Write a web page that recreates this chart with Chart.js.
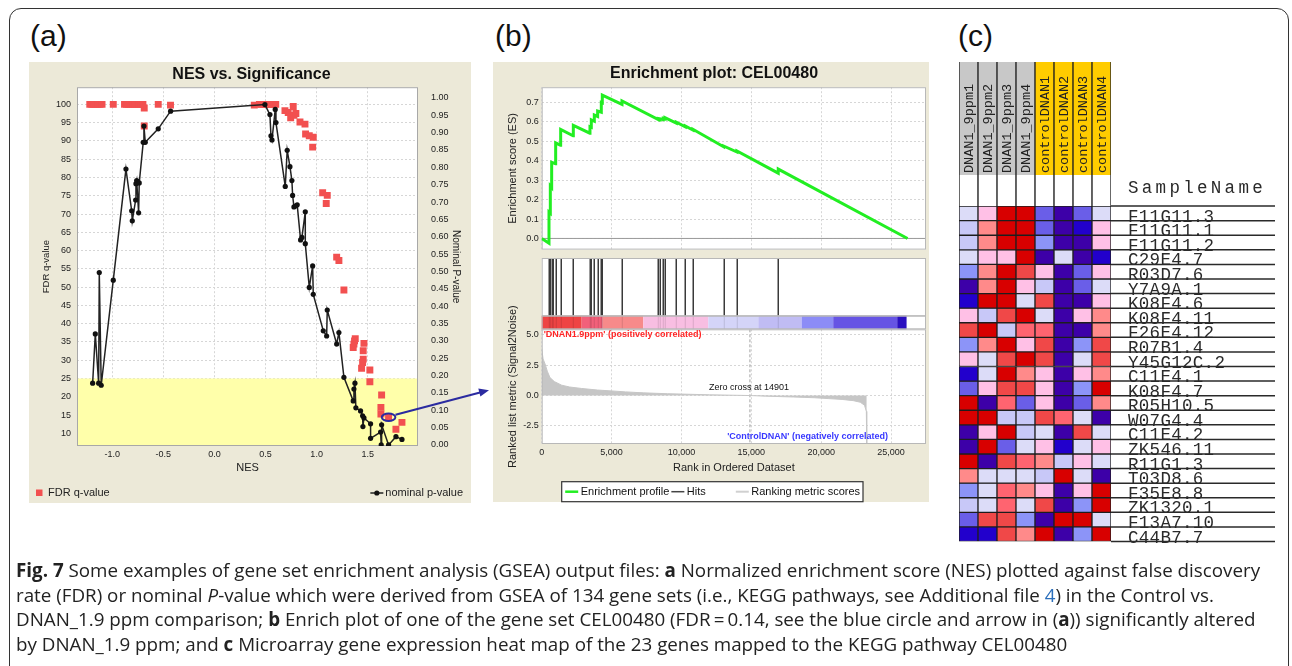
<!DOCTYPE html>
<html>
<head>
<meta charset="utf-8">
<script src="https://cdn.jsdelivr.net/npm/chart.js@4.4.0/dist/chart.umd.min.js"></script>
<style>
  body { margin: 0; background: #fff; width: 1292px; height: 666px; overflow: hidden; position: relative;
         font-family: "Liberation Sans", Arial, sans-serif; }
  .frame { position: absolute; left: 9px; top: 8px; width: 1280px; height: 720px; border: 1.5px solid #333;
           border-radius: 12px; box-sizing: border-box; }
  .lab { position: absolute; top: 21px; font-size: 30px; line-height: 30px; color: #111; }
  .beige { position: absolute; background: #ECE9D8; }
  canvas { position: absolute; }
  .cap { position: absolute; left: 16px; top: 558px; font-family: "Open Sans", sans-serif; font-size: 18.8px;
         line-height: 24.5px; color: #222; white-space: nowrap; }
  svg { position: absolute; left: 0; top: 0; }
</style>
</head>
<body>
<div class="frame"></div>
<div class="lab" style="left:30px">(a)</div>
<div class="lab" style="left:495px">(b)</div>
<div class="lab" style="left:958px">(c)</div>

<div class="beige" style="left:29px;top:62px;width:442px;height:441px"></div>
<div class="beige" style="left:493px;top:62px;width:436px;height:440px"></div>

<canvas id="chartA" width="442" height="441" style="left:29px;top:62px"></canvas>
<canvas id="chartES" width="436" height="196" style="left:493px;top:62px"></canvas>
<canvas id="chartRank" width="436" height="246" style="left:493px;top:258px"></canvas>
<canvas id="chartHeat" width="340" height="495" style="left:945px;top:55px"></canvas>

<svg width="1292" height="666">
  <line x1="395.5" y1="414.8" x2="481" y2="392.3" stroke="#2B2BA0" stroke-width="2"/>
  <polygon points="489,390.2 478.3,388.6 480.4,396.6" fill="#2B2BA0"/>
</svg>

<div class="cap"><b>Fig. 7</b> Some examples of gene set enrichment analysis (GSEA) output files: <b>a</b> Normalized enrichment score (NES) plotted against false discovery<br>rate (FDR) or nominal <i>P</i>-value which were derived from GSEA of 134 gene sets (i.e., KEGG pathways, see Additional file <span style="color:#2A6EBB">4</span>) in the Control vs.<br>DNAN_1.9 ppm comparison; <b>b</b> Enrich plot of one of the gene set CEL00480 (FDR&#8201;=&#8201;0.14, see the blue circle and arrow in (<b>a</b>)) significantly altered<br>by DNAN_1.9 ppm; and <b>c</b> Microarray gene expression heat map of the 23 genes mapped to the KEGG pathway CEL00480</div>

<script>
// ---------- (a) NES vs. Significance ----------
var fdrNes = [-1.22, -1.20, -1.18, -1.16, -1.14, -1.12, -1.10, -0.99, -0.88, -0.86, -0.84, -0.82, -0.80, -0.78,
  -0.76, -0.74, -0.72, -0.70, -0.687, -0.687, -0.55, -0.43, 0.39, 0.44, 0.46, 0.48, 0.50, 0.52, 0.54, 0.56,
  0.58, 0.60, 0.69, 0.722, 0.746, 0.771, 0.778, 0.797, 0.837, 0.886, 0.892, 0.928, 0.967, 0.961, 1.059,
  1.104, 1.094, 1.196, 1.218, 1.267, 1.358, 1.365, 1.371, 1.378, 1.463, 1.456, 1.456, 1.45, 1.44, 1.521,
  1.521, 1.636, 1.629, 1.629, 1.704, 1.835, 1.776];
var fdrQ = [100, 100, 100, 100, 100, 100, 100, 100, 100, 100, 100, 100, 100, 100,
  100, 100, 100, 100, 99, 94.1, 100, 99.8, 99.8, 100, 100, 100, 100, 100, 100, 100,
  100, 100, 98.3, 97.8, 96.3, 99.4, 97, 97.5, 95.2, 94.6, 91.9, 91.4, 91.0, 88.3, 75.8,
  75.1, 72.9, 58.2, 57.3, 49.2, 33.5, 34.4, 35.3, 35.9, 34.6, 32.6, 30.3, 29.4, 27.8, 27.3,
  24.1, 20.5, 17.1, 15.3, 14.4, 13.0, 11.1];

var pNes = [-1.192, -1.166, -1.133, -1.127, -1.108, -0.99, -0.866, -0.81, -0.804, -0.771, -0.768, -0.761,
  -0.742, -0.736, -0.697, -0.69, -0.677, -0.55, -0.429, 0.494, 0.543, 0.553, 0.563, 0.595, 0.602, 0.693,
  0.712, 0.739, 0.758, 0.765, 0.778, 0.797, 0.81, 0.843, 0.856, 0.889, 0.889, 0.928, 0.961, 0.967, 1.065,
  1.098, 1.104, 1.196, 1.218, 1.267, 1.358, 1.365, 1.375, 1.384, 1.43, 1.45, 1.453, 1.463, 1.528, 1.528,
  1.626, 1.632, 1.636, 1.704, 1.776, 1.835];
var pVal = [0.178, 0.320, 0.178, 0.497, 0.172, 0.475, 0.795, 0.675, 0.646, 0.706, 0.753, 0.762,
  0.669, 0.755, 0.872, 0.919, 0.872, 0.911, 0.962, 0.981, 0.952, 0.891, 0.879, 0.967, 0.929, 0.745,
  0.849, 0.802, 0.762, 0.719, 0.686, 0.689, 0.692, 0.591, 0.598, 0.672, 0.580, 0.454, 0.516, 0.434, 0.329,
  0.314, 0.389, 0.291, 0.324, 0.195, 0.127, 0.161, 0.178, 0.107, 0.098, 0.084, 0.053, 0.078, 0.061, 0.019,
  0.037, 0.000, 0.058, 0.000, 0.024, 0.016];

var nesTicks = [-1.0, -0.5, 0.0, 0.5, 1.0, 1.5];
var fdrTicks = [10, 15, 20, 25, 30, 35, 40, 45, 50, 55, 60, 65, 70, 75, 80, 85, 90, 95, 100];
var pTicks = [0, 0.05, 0.1, 0.15, 0.2, 0.25, 0.3, 0.35, 0.4, 0.45, 0.5, 0.55, 0.6, 0.65, 0.7, 0.75, 0.8, 0.85, 0.9, 0.95, 1.0];
var fdrCutoff = 25;
var circledNes = 1.704, circledFdr = 14.4;

// ---------- (b) enrichment plot ----------
var esRank = [0, 522, 522, 617, 617, 713, 713, 990, 999, 1340, 1357, 2250, 2263, 3445, 3455, 3550, 3550,
  3765, 3765, 4003, 4003, 4265, 4265, 4337, 4337, 5744, 5744, 8343, 8343, 8462, 8462, 8700, 8700, 8820, 8820,
  9630, 9630, 10274, 10274, 10820, 10820, 13015, 13015, 13970, 13970, 16926, 16926, 26180];
var esScore = [0.0, -0.025, 0.136, 0.13, 0.27, 0.262, 0.392, 0.385, 0.492, 0.48, 0.561, 0.528, 0.582, 0.542, 0.575, 0.572, 0.61,
  0.603, 0.635, 0.628, 0.656, 0.65, 0.70, 0.698, 0.738, 0.69, 0.708, 0.612, 0.616, 0.612, 0.616, 0.612, 0.618, 0.615, 0.622,
  0.594, 0.598, 0.575, 0.579, 0.558, 0.562, 0.472, 0.476, 0.445, 0.45, 0.336, 0.357, 0.0];
var hitRanks = [522, 617, 713, 832, 999, 1357, 2263, 3455, 3550, 3765, 4003, 4265, 4337, 5744, 8343, 8462,
  8700, 8820, 9630, 10274, 10820, 13015, 13970, 16926];
var barBreaks = [0, 2860, 4362, 7270, 11920, 15500, 18600, 20860, 25440, 26110];
var barColors = ['#EE4444', '#F2607A', '#F78A8A', '#F8BEE2', '#D4D4F8', '#C0BCF4', '#8C8CF6', '#6654E4', '#2A10C0'];
var rankPos = [0, 100, 240, 400, 590, 900, 1430, 2000, 2860, 4000, 5000, 6000, 7300, 9000, 10000, 12000,
  14901, 16000, 18000, 19500, 20500, 21500, 22300, 22800, 23100, 23230, 23260];
var rankMetric = [3.87, 3.0, 2.6, 2.0, 1.48, 1.15, 0.85, 0.7, 0.58, 0.45, 0.38, 0.3, 0.22, 0.15, 0.12, 0.06,
  0.0, -0.05, -0.12, -0.18, -0.25, -0.32, -0.42, -0.55, -0.8, -1.3, -3.9];
var rankTicks = [0, 5000, 10000, 15000, 20000, 25000];
var esTicks = [0.0, 0.1, 0.2, 0.3, 0.4, 0.5, 0.6, 0.7];
var metricTicks = [5.0, 2.5, 0.0, -2.5];
var zeroCross = 14901;

// ---------- (c) heat map ----------
var sampleNames = ['DNAN1_9ppm1', 'DNAN1_9ppm2', 'DNAN1_9ppm3', 'DNAN1_9ppm4',
  'controlDNAN1', 'controlDNAN2', 'controlDNAN3', 'controlDNAN4'];
var sampleGroups = ['DNAN', 'DNAN', 'DNAN', 'DNAN', 'control', 'control', 'control', 'control'];
var geneNames = ['F11G11.3', 'F11G11.1', 'F11G11.2', 'C29E4.7', 'R03D7.6', 'Y7A9A.1', 'K08F4.6', 'K08F4.11',
  'F26E4.12', 'R07B1.4', 'Y45G12C.2', 'C11E4.1', 'K08F4.7', 'R05H10.5', 'W07G4.4', 'C11E4.2', 'ZK546.11',
  'R11G1.3', 'T03D8.6', 'F35E8.8', 'ZK1320.1', 'F13A7.10', 'C44B7.7'];
var heatValues = [
  [0, 1, 5, 5, -3, -4, -3, 0],
  [-1, 2, 5, 5, -3, -4, -5, 1],
  [-1, 2, 5, 5, -2, -4, -4, 1],
  [0, 1, 1, 5, -4, 0, -4, -5],
  [-2, 2, 5, 4, 1, -4, -3, 1],
  [-4, 2, 5, 1, -1, -4, -3, 0],
  [-5, 5, 5, 0, 4, -4, -4, 1],
  [1, -1, 4, 5, 0, -4, 1, 2],
  [4, 5, -1, 3, 3, -4, -4, 2],
  [-2, 2, 5, 1, 4, -4, -2, 4],
  [1, 0, 4, 5, 4, -4, 0, 4],
  [-5, 0, 5, 2, 1, -4, 1, 2],
  [-3, 1, 4, 4, 1, -4, -2, 5],
  [5, -4, 3, -3, 1, -4, -3, 2],
  [5, 5, -1, -1, 4, 3, 0, -4],
  [-4, 1, 5, -1, 0, -4, 4, 0],
  [-4, 5, -3, 0, 1, -5, 0, 1],
  [5, -4, 4, 3, 2, -1, 1, 0],
  [2, 0, 0, 0, -1, 5, 0, -4],
  [-2, 0, 3, 2, 1, -4, 1, 5],
  [-1, 0, 3, 0, 4, -4, -2, 5],
  [-3, 4, 4, -2, -4, 5, 5, 0],
  [-5, -5, 4, 2, 5, -4, -2, 5]
];

var F = '"Liberation Sans", Arial, sans-serif';
var M = '"Liberation Mono", "Courier New", monospace';
Chart.defaults.font.family = F;
Chart.defaults.color = '#222';
Chart.defaults.animation = false;

var gridOpts = { color: '#D6D6D6', drawTicks: false };
var dashBorder = { display: false, dash: [2, 2] };
function fixTicks(list) { return function (s) { s.ticks = list.map(function (v) { return { value: v }; }); }; }

// ---- chart (a)
var panelA = {
  id: 'panelA',
  beforeDraw: function (c) {
    var a = c.chartArea, ctx = c.ctx;
    ctx.save(); ctx.fillStyle = '#fff'; ctx.fillRect(a.left, a.top, a.width, a.height); ctx.restore();
  },
  beforeDatasetsDraw: function (c) {
    var a = c.chartArea, ctx = c.ctx;
    var y = c.scales.y.getPixelForValue(fdrCutoff);
    ctx.save();
    ctx.fillStyle = '#FFFFAA';
    ctx.fillRect(a.left, y, a.width, a.bottom - y);
    ctx.strokeStyle = '#A8A8A8'; ctx.lineWidth = 1;
    ctx.strokeRect(a.left + 0.5, a.top + 0.5, a.width - 1, a.height - 1);
    ctx.restore();
  },
  afterDraw: function (c) {
    var ctx = c.ctx;
    var cx = c.scales.x.getPixelForValue(circledNes), cy = c.scales.y.getPixelForValue(circledFdr);
    ctx.save();
    ctx.strokeStyle = '#2B2BA0'; ctx.lineWidth = 2;
    ctx.beginPath(); ctx.ellipse(cx, cy, 6.8, 3.8, 0, 0, Math.PI * 2); ctx.stroke();
    // legend
    ctx.font = '11px ' + F; ctx.textBaseline = 'middle';
    ctx.fillStyle = '#F25050'; ctx.fillRect(7, 427.5, 6.5, 6.5);
    ctx.fillStyle = '#222'; ctx.textAlign = 'left'; ctx.fillText('FDR q-value', 19, 431);
    ctx.textAlign = 'right'; ctx.fillText('nominal p-value', 434, 431);
    var tw = ctx.measureText('nominal p-value').width;
    var lx = 434 - tw - 2;
    ctx.strokeStyle = '#222'; ctx.lineWidth = 1.5;
    ctx.beginPath(); ctx.moveTo(lx - 13, 431); ctx.lineTo(lx, 431); ctx.stroke();
    ctx.fillStyle = '#111'; ctx.beginPath(); ctx.arc(lx - 6.5, 431, 2.6, 0, Math.PI * 2); ctx.fill();
    ctx.restore();
  }
};

new Chart(document.getElementById('chartA'), {
  type: 'scatter',
  data: {
    datasets: [{
      label: 'nominal p-value',
      data: pNes.map(function (x, i) { return { x: x, y: pVal[i] }; }),
      yAxisID: 'y2', showLine: true, borderColor: '#222', borderWidth: 1.5,
      pointRadius: 2.6, pointBackgroundColor: '#111', pointBorderWidth: 0
    }, {
      label: 'FDR q-value',
      data: fdrNes.map(function (x, i) { return { x: x, y: fdrQ[i] }; }),
      yAxisID: 'y', pointStyle: 'rect', pointRadius: 4.9, pointBackgroundColor: '#F25050', pointBorderWidth: 0
    }]
  },
  options: {
    responsive: false,
    layout: { padding: { left: 8, right: 5, top: 0, bottom: 24 } },
    plugins: {
      legend: { display: false }, tooltip: { enabled: false },
      title: { display: true, text: 'NES vs. Significance', color: '#111',
               font: { size: 16, weight: 'bold' }, padding: { top: 3, bottom: 3 } }
    },
    scales: {
      x: {
        type: 'linear', min: -1.345, max: 1.992, afterBuildTicks: fixTicks(nesTicks),
        afterFit: function (s) { s.height = 33; },
        ticks: { font: { size: 9 }, padding: 3, maxRotation: 0, callback: function (v) { return v.toFixed(1); } },
        grid: gridOpts, border: dashBorder,
        title: { display: true, text: 'NES', font: { size: 11 } }
      },
      y: {
        position: 'left', min: 6.53, max: 104.7, afterBuildTicks: fixTicks(fdrTicks),
        afterFit: function (s) { s.width = 40; },
        ticks: { font: { size: 9 }, padding: 6, callback: function (v) { return String(v); } },
        grid: gridOpts, border: dashBorder,
        title: { display: true, text: 'FDR q-value', font: { size: 9.5 } }
      },
      y2: {
        position: 'right', min: -0.003, max: 1.031, afterBuildTicks: fixTicks(pTicks),
        afterFit: function (s) { s.width = 48; },
        ticks: { font: { size: 9 }, padding: 5, callback: function (v) { return v.toFixed(2); } },
        grid: { display: false }, border: { display: false },
        title: { display: true, text: 'Nominal P-value', font: { size: 10 } }
      }
    }
  },
  plugins: [panelA]
});

// ---- chart (b) top: running enrichment score
var esExtras = {
  id: 'esExtras',
  beforeDraw: function (c) {
    var a = c.chartArea, ctx = c.ctx;
    ctx.save(); ctx.fillStyle = '#fff'; ctx.fillRect(a.left, a.top, a.width, a.height); ctx.restore();
  },
  beforeDatasetsDraw: function (c) {
    var a = c.chartArea, ctx = c.ctx, y0 = c.scales.y.getPixelForValue(0);
    ctx.save();
    ctx.strokeStyle = '#9A9A9A'; ctx.lineWidth = 1;
    ctx.beginPath(); ctx.moveTo(a.left, y0); ctx.lineTo(a.right, y0); ctx.stroke();
    ctx.strokeStyle = '#B8B8B8';
    ctx.strokeRect(a.left + 0.5, a.top + 0.5, a.width - 1, a.height - 1);
    ctx.restore();
  }
};

new Chart(document.getElementById('chartES'), {
  type: 'scatter',
  data: {
    datasets: [{
      label: 'Enrichment profile',
      data: esRank.map(function (x, i) { return { x: x, y: esScore[i] }; }),
      showLine: true, borderColor: '#22EE22', borderWidth: 3, pointRadius: 0
    }]
  },
  options: {
    responsive: false,
    layout: { padding: { left: 9, right: 3, top: 0, bottom: 0.3 } },
    plugins: {
      legend: { display: false }, tooltip: { enabled: false },
      title: { display: true, text: 'Enrichment plot: CEL00480', color: '#111',
               font: { size: 16, weight: 'bold' }, padding: { top: 2, bottom: 4 } }
    },
    scales: {
      x: {
        type: 'linear', min: 0, max: 27500, afterBuildTicks: fixTicks(rankTicks),
        afterFit: function (s) { s.height = 0; },
        ticks: { display: false }, grid: gridOpts, border: dashBorder
      },
      y: {
        min: -0.0574, max: 0.7785, afterBuildTicks: fixTicks(esTicks),
        afterFit: function (s) { s.width = 39.7; },
        ticks: { font: { size: 9 }, padding: 3, callback: function (v) { return v.toFixed(1); } },
        grid: gridOpts, border: dashBorder,
        title: { display: true, text: 'Enrichment score (ES)', font: { size: 11 } }
      }
    }
  },
  plugins: [esExtras]
});

// ---- chart (b) bottom: hits, colour bar and ranked list metric
var rankExtras = {
  id: 'rankExtras',
  beforeDraw: function (c) {
    var a = c.chartArea, ctx = c.ctx;
    ctx.save(); ctx.fillStyle = '#fff'; ctx.fillRect(a.left, 0, a.width, a.bottom); ctx.restore();
  },
  beforeDatasetsDraw: function (c) {
    var a = c.chartArea, ctx = c.ctx, xz = c.scales.x.getPixelForValue(zeroCross);
    ctx.save();
    ctx.strokeStyle = '#A0A0A0'; ctx.lineWidth = 1; ctx.setLineDash([3, 2]);
    ctx.beginPath(); ctx.moveTo(xz, a.top); ctx.lineTo(xz, a.bottom); ctx.stroke();
    ctx.restore();
  },
  afterDatasetsDraw: function (c) {
    var a = c.chartArea, ctx = c.ctx, xs = c.scales.x, ys = c.scales.y;
    var barH = 13.6, hitBottom = a.top - barH;
    ctx.save();
    // colour bar
    for (var i = 0; i < barColors.length; i++) {
      var x1 = xs.getPixelForValue(barBreaks[i]), x2 = xs.getPixelForValue(barBreaks[i + 1]);
      ctx.fillStyle = barColors[i];
      ctx.fillRect(x1, hitBottom, x2 - x1, barH);
    }
    // hits
    hitRanks.forEach(function (r) {
      var x = Math.round(xs.getPixelForValue(r)) + 0.25;
      ctx.strokeStyle = '#3A3A3A'; ctx.lineWidth = 1.5;
      ctx.beginPath(); ctx.moveTo(x, 1); ctx.lineTo(x, hitBottom); ctx.stroke();
      ctx.strokeStyle = 'rgba(0,0,0,0.12)'; ctx.lineWidth = 1;
      ctx.beginPath(); ctx.moveTo(x, hitBottom); ctx.lineTo(x, a.top); ctx.stroke();
    });
    // frames
    ctx.strokeStyle = '#B8B8B8'; ctx.lineWidth = 1;
    ctx.strokeRect(a.left + 0.5, 0.5, a.width - 1, hitBottom - 0.5);
    ctx.strokeRect(a.left + 0.5, hitBottom + 0.5, a.width - 1, barH - 1);
    ctx.strokeRect(a.left + 0.5, a.top + 0.5, a.width - 1, a.height - 1);
    // annotations
    ctx.textBaseline = 'middle';
    ctx.font = 'bold 9px ' + F; ctx.textAlign = 'left'; ctx.fillStyle = '#FF2424';
    ctx.fillText("'DNAN1.9ppm' (positively correlated)", a.left + 2, a.top + 5.5);
    ctx.textAlign = 'right'; ctx.fillStyle = '#3838FF';
    ctx.fillText("'ControlDNAN' (negatively correlated)", a.right - 38, a.bottom - 7.5);
    ctx.font = '9px ' + F; ctx.textAlign = 'center'; ctx.fillStyle = '#111';
    ctx.fillText('Zero cross at ' + zeroCross, xs.getPixelForValue(zeroCross) - 1, ys.getPixelForValue(0) - 8);
    // legend
    var lt = 223.7, lh = 20, lx0 = 68.7, lx1 = 370;
    ctx.fillStyle = '#fff'; ctx.fillRect(lx0, lt, lx1 - lx0, lh);
    ctx.strokeStyle = '#333'; ctx.lineWidth = 1.2; ctx.strokeRect(lx0, lt, lx1 - lx0, lh);
    var items = [['Enrichment profile', '#22EE22', 2.5], ['Hits', '#444', 1.5], ['Ranking metric scores', '#D0D0D0', 2]];
    var x = lx0 + 3.5, ym = lt + lh / 2;
    ctx.font = '11px ' + F; ctx.textAlign = 'left'; ctx.fillStyle = '#111';
    items.forEach(function (it, k) {
      if (k === 2) { x += 28; }
      ctx.strokeStyle = it[1]; ctx.lineWidth = it[2];
      ctx.beginPath(); ctx.moveTo(x, ym); ctx.lineTo(x + 13, ym); ctx.stroke();
      x += 15.5;
      ctx.fillStyle = '#111'; ctx.fillText(it[0], x, ym);
      x += ctx.measureText(it[0]).width + 2;
    });
    ctx.restore();
  }
};

new Chart(document.getElementById('chartRank'), {
  type: 'scatter',
  data: {
    datasets: [{
      label: 'Ranking metric scores',
      data: rankPos.map(function (x, i) { return { x: x, y: rankMetric[i] }; }),
      showLine: true, fill: 'origin', backgroundColor: '#C6C6C6', borderColor: '#C6C6C6',
      borderWidth: 1, pointRadius: 0
    }]
  },
  options: {
    responsive: false,
    layout: { padding: { left: 9, right: 3, top: 71.3, bottom: 25.7 } },
    plugins: { legend: { display: false }, tooltip: { enabled: false } },
    scales: {
      x: {
        type: 'linear', min: 0, max: 27500, afterBuildTicks: fixTicks(rankTicks),
        afterFit: function (s) { s.height = 34.3; },
        ticks: { font: { size: 9 }, padding: 3, maxRotation: 0,
                 callback: function (v) { return v.toLocaleString('en-US'); } },
        grid: gridOpts, border: dashBorder,
        title: { display: true, text: 'Rank in Ordered Dataset', font: { size: 11 } }
      },
      y: {
        min: -3.98, max: 5.44, afterBuildTicks: fixTicks(metricTicks),
        afterFit: function (s) { s.width = 39.7; },
        ticks: { font: { size: 9 }, padding: 3, callback: function (v) { return v.toFixed(1); } },
        grid: gridOpts, border: dashBorder,
        title: { display: true, text: 'Ranked list metric (Signal2Noise)', font: { size: 11 } }
      }
    }
  },
  plugins: [rankExtras]
});

// ---- chart (c): heat map as floating bars
var palette = { '-5': '#2200CC', '-4': '#3D00A8', '-3': '#6A5EE8', '-2': '#8C94F8', '-1': '#C8C8F8',
  '0': '#DCDCF8', '1': '#FFC0E6', '2': '#FF8A8A', '3': '#FF6470', '4': '#F04848', '5': '#D80000' };
var groupColor = { DNAN: '#C8C8C8', control: '#FFCC00' };
var headTop = -9.88, headBottom = -2.13;

var heatSets = [{
  data: sampleNames.map(function () { return [headTop, headBottom]; }),
  backgroundColor: sampleGroups.map(function (g) { return groupColor[g]; }),
  borderWidth: { left: 1, right: 1, top: 0, bottom: 0 }
}, {
  data: sampleNames.map(function () { return [headBottom, 0]; }),
  backgroundColor: '#fff',
  borderWidth: { left: 1, right: 1, top: 0, bottom: 0 }
}];
geneNames.forEach(function (g, r) {
  heatSets.push({
    label: g,
    data: sampleNames.map(function () { return [r, r + 1]; }),
    backgroundColor: heatValues[r].map(function (v) { return palette[v]; }),
    borderWidth: 1
  });
});
heatSets.forEach(function (d) {
  d.borderColor = '#1E1E1E'; d.borderSkipped = false; d.grouped = false;
  d.categoryPercentage = 1; d.barPercentage = 1;
});

var heatExtras = {
  id: 'heatExtras',
  afterDraw: function (c) {
    var ctx = c.ctx, xs = c.scales.x, ys = c.scales.y, a = c.chartArea;
    ctx.save();
    ctx.font = '13.5px ' + M; ctx.fillStyle = '#222'; ctx.textBaseline = 'middle'; ctx.textAlign = 'left';
    sampleNames.forEach(function (s, i) {
      ctx.save();
      ctx.translate(xs.getPixelForValue(i) + 0.5, ys.getPixelForValue(headBottom) - 2);
      ctx.rotate(-Math.PI / 2);
      ctx.fillText(s, 0, 0);
      ctx.restore();
    });
    var tx = 183;
    ctx.font = '17.5px ' + M; ctx.textBaseline = 'alphabetic'; ctx.fillStyle = '#2A2A2A';
    ctx.letterSpacing = '3.3px';
    ctx.fillText('SampleName', tx, 138);
    ctx.letterSpacing = '0.3px';
    geneNames.forEach(function (g, r) {
      ctx.fillText(g, tx, ys.getPixelForValue(r + 1) + 1);
    });
    ctx.strokeStyle = '#2A2A2A'; ctx.lineWidth = 1.5;
    for (var r = 0; r <= geneNames.length; r++) {
      var y = ys.getPixelForValue(r);
      ctx.beginPath(); ctx.moveTo(a.right, y); ctx.lineTo(330, y); ctx.stroke();
    }
    ctx.restore();
  }
};

new Chart(document.getElementById('chartHeat'), {
  type: 'bar',
  data: { labels: sampleNames, datasets: heatSets },
  options: {
    responsive: false,
    layout: { padding: { left: 14, right: 174, top: 7, bottom: 8.5 } },
    plugins: { legend: { display: false }, tooltip: { enabled: false } },
    scales: {
      x: { display: false },
      y: { display: false, reverse: true, min: headTop, max: geneNames.length }
    }
  },
  plugins: [heatExtras]
});
</script>
</body>
</html>
